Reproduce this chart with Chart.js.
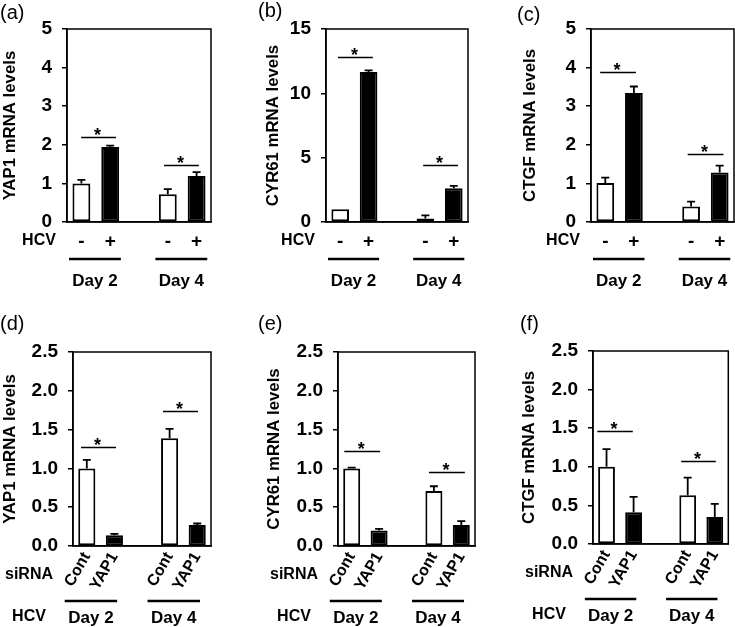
<!DOCTYPE html>
<html lang="en">
<head>
<meta charset="UTF-8" />
<title>YAP1 / CYR61 / CTGF mRNA levels</title>
<script src="https://cdn.jsdelivr.net/npm/chart.js@4"></script>
<style>
  * { margin: 0; padding: 0; box-sizing: border-box; }
  body { background: #fff; width: 735px; height: 627px; position: relative; overflow: hidden; }
  canvas { position: absolute; }
</style>
</head>
<body>
<canvas id="pa"></canvas>
<canvas id="pb"></canvas>
<canvas id="pc"></canvas>
<canvas id="pd"></canvas>
<canvas id="pe"></canvas>
<canvas id="pf"></canvas>

<script>
// --- data ---
const hcvTicks = ['-', '+', '', '-', '+'];
const sirnaTicks = ['Cont', 'YAP1', '', 'Cont', 'YAP1'];
const dayLabels = ['Day 2', 'Day 4'];

const yap1HcvMean = [1.00, 1.94, null, 0.72, 1.19];
const yap1HcvErr = [0.09, 0.04, null, 0.13, 0.10];
const cyr61HcvMean = [1.00, 11.66, null, 0.28, 2.62];
const cyr61HcvErr = [0.00, 0.13, null, 0.24, 0.18];
const ctgfHcvMean = [1.01, 3.34, null, 0.40, 1.28];
const ctgfHcvErr = [0.14, 0.17, null, 0.13, 0.18];

const yap1SiMean = [1.00, 0.14, null, 1.39, 0.27];
const yap1SiErr = [0.11, 0.015, null, 0.12, 0.02];
const cyr61SiMean = [1.00, 0.20, null, 0.71, 0.27];
const cyr61SiErr = [0.01, 0.02, null, 0.06, 0.05];
const ctgfSiMean = [1.00, 0.41, null, 0.63, 0.35];
const ctgfSiErr = [0.23, 0.20, null, 0.23, 0.17];

const FONT = "'Liberation Sans', Arial, sans-serif";
Chart.defaults.font.family = FONT;
Chart.defaults.font.weight = 700;
Chart.defaults.color = '#000';

const barFill = ['#ffffff', '#000000', '#ffffff', '#ffffff', '#000000'];

// row layout (pixel offsets below the plot box)
const topRow = { y: 0, h: 305, xh: 40, rot: 0, tickFont: 19, tickPad: 8, dayLine: 37, dayText: 59, span: [-0.93, 0.87],
  labels: [['HCV', -28, 19]] };
const botRow = { y: 305, h: 322, xh: 50, rot: 60, tickFont: 16, tickPad: 3, dayLine: 55, dayText: 72, span: [-1.3, 0.6],
  labels: [['siRNA', -44, 29], ['HCV', -44, 71]] };

const panels = [
  { el: 'pa', tag: '(a)', tagAt: [0, 13], row: topRow, x: 0, box: [67, 29, 211, 222], titleX: 9,
    title: 'YAP1 mRNA levels', ticks: hcvTicks, mean: yap1HcvMean, err: yap1HcvErr,
    yMax: 5, step: 1, dec: 0, sig: [[-0.01, 1.2, 2.2], [2.87, 4.08, 1.48]] },
  { el: 'pb', tag: '(b)', tagAt: [13, 11], row: topRow, x: 245, box: [326, 29, 468, 222], titleX: 273,
    title: 'CYR61 mRNA levels', ticks: hcvTicks, mean: cyr61HcvMean, err: cyr61HcvErr,
    yMax: 15, step: 5, dec: 0, sig: [[-0.08, 1.15, 12.8], [2.92, 4.15, 4.43]] },
  { el: 'pc', tag: '(c)', tagAt: [27, 15], row: topRow, x: 490, box: [591, 29, 734, 222], titleX: 530,
    title: 'CTGF mRNA levels', ticks: hcvTicks, mean: ctgfHcvMean, err: ctgfHcvErr,
    yMax: 5, step: 1, dec: 0, sig: [[-0.18, 1.07, 3.88], [2.88, 4.13, 1.76]] },
  { el: 'pd', tag: '(d)', tagAt: [0, 19], row: botRow, x: 0, box: [73, 352, 211, 546], titleX: 9.5,
    title: 'YAP1 mRNA levels', ticks: sirnaTicks, mean: yap1SiMean, err: yap1SiErr,
    yMax: 2.5, step: 0.5, dec: 1, sig: [[-0.21, 1.06, 1.28], [2.76, 4.03, 1.74]] },
  { el: 'pe', tag: '(e)', tagAt: [13, 19], row: botRow, x: 245, box: [338, 352, 475, 546], titleX: 274,
    title: 'CYR61 mRNA levels', ticks: sirnaTicks, mean: cyr61SiMean, err: cyr61SiErr,
    yMax: 2.5, step: 0.5, dec: 1, sig: [[-0.27, 1.04, 1.22], [2.82, 4.13, 0.95]] },
  { el: 'pf', tag: '(f)', tagAt: [30, 19], row: botRow, x: 490, box: [593, 351, 729, 544], titleX: 529,
    title: 'CTGF mRNA levels', ticks: sirnaTicks, mean: ctgfSiMean, err: ctgfSiErr,
    yMax: 2.5, step: 0.5, dec: 1, sig: [[-0.34, 0.97, 1.46], [2.76, 4.04, 1.07]] }
];

// extra drawing: frame, error bars, asterisks, day lines, row labels, panel tag
function decoPlugin(p) {
  return {
    id: 'deco',
    afterDraw(chart) {
      const { ctx, chartArea: a, scales: { x, y } } = chart;
      const meta = chart.getDatasetMeta(0);
      const r = p.row;
      ctx.save();
      ctx.strokeStyle = '#000';
      ctx.fillStyle = '#000';

      ctx.lineWidth = 1.5;
      ctx.strokeRect(a.left, a.top, a.right - a.left, a.bottom - a.top);

      // error bars (upper only)
      ctx.lineWidth = 1.8;
      p.mean.forEach((m, i) => {
        if (m == null || !p.err[i]) return;
        const bx = meta.data[i].x;
        const y0 = y.getPixelForValue(m);
        const y1 = y.getPixelForValue(m + p.err[i]);
        ctx.beginPath();
        ctx.moveTo(bx, y0); ctx.lineTo(bx, y1);
        ctx.moveTo(bx - 4, y1); ctx.lineTo(bx + 4, y1);
        ctx.stroke();
      });

      // significance lines
      ctx.lineWidth = 1.5;
      ctx.font = 'bold 18px ' + FONT;
      ctx.textAlign = 'center';
      ctx.textBaseline = 'alphabetic';
      p.sig.forEach(([i0, i1, v]) => {
        const x0 = x.getPixelForValue(i0);
        const x1 = x.getPixelForValue(i1);
        const yy = Math.round(y.getPixelForValue(v)) + 0.5;
        ctx.beginPath(); ctx.moveTo(x0, yy); ctx.lineTo(x1, yy); ctx.stroke();
        ctx.fillText('*', (x0 + x1) / 2 - 1, yy + 3);
      });

      // row labels (HCV / siRNA)
      ctx.font = 'bold 16px ' + FONT;
      ctx.textBaseline = 'middle';
      r.labels.forEach(([txt, dx, dy]) => ctx.fillText(txt, a.left + dx, a.bottom + dy));

      // day group lines
      ctx.lineWidth = 2.5;
      ctx.font = 'bold 17px ' + FONT;
      [0.5, 3.5].forEach((c, k) => {
        const x0 = x.getPixelForValue(c + r.span[0]);
        const x1 = x.getPixelForValue(c + r.span[1]);
        const ly = a.bottom + r.dayLine;
        ctx.beginPath(); ctx.moveTo(x0, ly); ctx.lineTo(x1, ly); ctx.stroke();
        ctx.fillText(dayLabels[k], (x0 + x1) / 2, a.bottom + r.dayText);
      });

      // panel tag
      ctx.font = 'normal 400 20px ' + FONT;
      ctx.textAlign = 'left';
      ctx.fillText(p.tag, p.tagAt[0], p.tagAt[1]);
      ctx.restore();
    }
  };
}

panels.forEach(p => {
  const r = p.row;
  const cv = document.getElementById(p.el);
  const W = 245;
  cv.width = W; cv.height = r.h;
  cv.style.left = p.x + 'px';
  cv.style.top = r.y + 'px';

  const titleSize = 16.8;
  const padLeft = Math.max(0, p.titleX - p.x - titleSize * 0.6);
  const yWidth = p.box[0] - p.x - padLeft;
  const padRight = p.x + W - p.box[2];
  const padTop = p.box[1] - r.y;
  const padBottom = r.y + r.h - p.box[3] - r.xh;

  new Chart(cv, {
    type: 'bar',
    data: {
      labels: p.ticks,
      datasets: [{
        data: p.mean,
        backgroundColor: barFill,
        borderColor: '#000',
        borderWidth: 2,
        borderSkipped: false,
        barPercentage: 0.62,
        categoryPercentage: 1
      }]
    },
    options: {
      responsive: false,
      animation: false,
      events: [],
      layout: { padding: { left: padLeft, right: padRight, top: padTop, bottom: padBottom } },
      plugins: { legend: { display: false }, tooltip: { enabled: false } },
      scales: {
        x: {
          grid: { display: false, drawTicks: false },
          border: { display: true, color: '#000', width: 1.5 },
          ticks: {
            autoSkip: false,
            minRotation: r.rot, maxRotation: r.rot,
            padding: r.tickPad,
            font: { size: r.tickFont, weight: 700 }
          },
          afterFit(s) { s.height = r.xh; }
        },
        y: {
          min: 0, max: p.yMax,
          grid: { drawOnChartArea: false, drawTicks: true, tickLength: 5, color: '#000', lineWidth: 1.5 },
          border: { display: true, color: '#000', width: 1.5 },
          ticks: {
            stepSize: p.step,
            padding: 10,
            font: { size: 19, weight: 700 },
            callback: v => Number(v).toFixed(p.dec)
          },
          title: {
            display: true,
            text: p.title,
            padding: { top: 0, bottom: 0 },
            font: { size: titleSize, weight: 700 }
          },
          afterFit(s) { s.width = yWidth; }
        }
      }
    },
    plugins: [decoPlugin(p)]
  });
});
</script>
</body>
</html>
